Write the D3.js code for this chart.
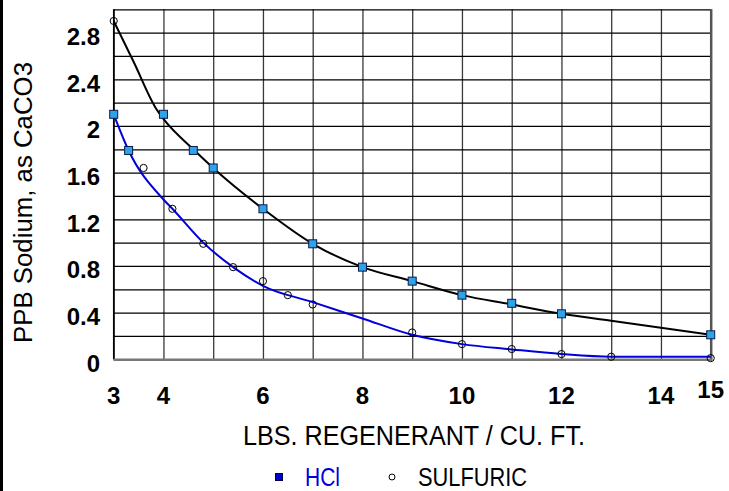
<!DOCTYPE html>
<html>
<head>
<meta charset="utf-8">
<script src="https://cdn.jsdelivr.net/npm/d3@7"></script>
<style>
  html, body { margin: 0; padding: 0; background: #fff; }
  svg { display: block; font-family: "Liberation Sans", Arial, sans-serif; }
</style>
</head>
<body>
<div id="chart"></div>
<script>
// Tick labels
const xTickValues = [3, 4, 6, 8, 10, 12, 14, 15];
const yTickValues = [0, 0.4, 0.8, 1.2, 1.6, 2, 2.4, 2.8];

// Curves (blue = HCl curve, black = sulfuric curve)
const blueLineX = [3, 3.3, 4, 4.18, 4.8, 5.4, 6, 7, 8, 9, 10, 11, 12, 13, 15];
const blueLineY = [2.1, 1.79, 1.37, 1.29, 1.0, 0.79, 0.63, 0.49, 0.35, 0.21, 0.13, 0.085, 0.045, 0.022, 0.022];
const blackLineX = [3, 3.4, 3.85, 4, 4.6, 5, 6, 7, 8, 9, 10, 11, 12, 13, 14, 15];
const blackLineY = [2.9, 2.55, 2.15, 2.06, 1.8, 1.64, 1.29, 0.99, 0.79, 0.67, 0.55, 0.47, 0.39, 0.33, 0.27, 0.21];

// Marker points
const squareX = [3, 3.3, 4, 4.6, 5, 6, 7, 8, 9, 10, 11, 12, 15];
const squareY = [2.1, 1.79, 2.1, 1.79, 1.64, 1.29, 0.99, 0.79, 0.67, 0.55, 0.48, 0.39, 0.21];
const circleX = [3, 3.6, 4.18, 4.8, 5.4, 6, 6.5, 7, 9, 10, 11, 12, 13, 15];
const circleY = [2.9, 1.64, 1.29, 0.99, 0.79, 0.67, 0.55, 0.47, 0.23, 0.13, 0.088, 0.045, 0.022, 0.01];

const seriesNames = ["HCl", "SULFURIC"];

const width = 729, height = 491;

const svg = d3.select("#chart")
    .append("svg")
    .attr("width", width)
    .attr("height", height);

// left frame bar
svg.append("rect")
    .attr("x", 0).attr("y", 0)
    .attr("width", 3).attr("height", height)
    .style("fill", "#000");

const x = d3.scaleLinear()
    .domain([3, 15])
    .range([113.7, 710.7]);

const y = d3.scaleLinear()
    .domain([0, 3])
    .range([359.3, 9.3]);

// vertical gridlines
svg.append("g")
    .attr("transform", "translate(0," + y(0) + ")")
    .call(d3.axisBottom(x).tickValues(d3.range(3, 16)).tickSize(-(y(0) - y(3))).tickFormat(""))
    .call(g => g.select(".domain").remove())
    .call(g => g.selectAll("line").style("stroke", "#3a3a3a").style("stroke-width", 1.3));

// horizontal gridlines
svg.append("g")
    .attr("transform", "translate(" + x(3) + ",0)")
    .call(d3.axisLeft(y).tickValues(d3.range(0, 3.01, 0.2)).tickSize(-(x(15) - x(3))).tickFormat(""))
    .call(g => g.select(".domain").remove())
    .call(g => g.selectAll("line").style("stroke", "#000").style("stroke-width", 1.2));

// frame
svg.append("line")
    .attr("x1", x(3)).attr("x2", x(3))
    .attr("y1", y(3)).attr("y2", y(0))
    .style("stroke", "#000").style("stroke-width", 1.5);
svg.append("line")
    .attr("x1", x(15) + 0.5).attr("x2", x(15) + 0.5)
    .attr("y1", y(3)).attr("y2", y(0) + 1)
    .style("stroke", "#555").style("stroke-width", 2.5);
svg.append("line")
    .attr("x1", x(3)).attr("x2", x(15) + 1.5)
    .attr("y1", y(0) + 0.5).attr("y2", y(0) + 0.5)
    .style("stroke", "#777").style("stroke-width", 2.5);

// y tick labels
svg.append("g")
    .selectAll("text")
    .data(yTickValues)
    .enter()
    .append("text")
    .attr("x", 100)
    .attr("y", (d) => y(d) + 12.5)
    .attr("text-anchor", "end")
    .style("font-size", "24px")
    .style("font-weight", "bold")
    .text((d) => d);

// x tick labels
svg.append("g")
    .selectAll("text")
    .data(xTickValues)
    .enter()
    .append("text")
    .attr("x", (d) => x(d))
    .attr("y", (d) => d == 15 ? 398 : 404)
    .attr("text-anchor", "middle")
    .style("font-size", "24px")
    .style("font-weight", "bold")
    .text((d) => d);

// axis titles
svg.append("text")
    .attr("x", 243)
    .attr("y", 445)
    .attr("textLength", 342)
    .attr("lengthAdjust", "spacingAndGlyphs")
    .style("font-size", "27px")
    .text("LBS. REGENERANT / CU. FT.");

svg.append("text")
    .attr("transform", "rotate(-90)")
    .attr("x", -343)
    .attr("y", 32)
    .attr("textLength", 281)
    .attr("lengthAdjust", "spacingAndGlyphs")
    .style("font-size", "26px")
    .text("PPB Sodium, as CaCO3");

// curves
const line = d3.line()
    .x((d) => x(d[0]))
    .y((d) => y(d[1]))
    .curve(d3.curveMonotoneX);

svg.append("path")
    .datum(d3.zip(blueLineX, blueLineY))
    .attr("d", line)
    .style("fill", "none")
    .style("stroke", "#0000dd")
    .style("stroke-width", 2);

svg.append("path")
    .datum(d3.zip(blackLineX, blackLineY))
    .attr("d", line)
    .style("fill", "none")
    .style("stroke", "#000")
    .style("stroke-width", 2);

// markers
svg.append("g")
    .selectAll("circle")
    .data(d3.zip(circleX, circleY))
    .enter()
    .append("circle")
    .attr("cx", (d) => x(d[0]))
    .attr("cy", (d) => y(d[1]))
    .attr("r", 3.6)
    .style("fill", "none")
    .style("stroke", "#000")
    .style("stroke-width", 1);

svg.append("g")
    .selectAll("rect")
    .data(d3.zip(squareX, squareY))
    .enter()
    .append("rect")
    .attr("x", (d) => x(d[0]) - 4)
    .attr("y", (d) => y(d[1]) - 4)
    .attr("width", 8)
    .attr("height", 8)
    .style("fill", "#2fa3e8")
    .style("stroke", "#0a1a4a")
    .style("stroke-width", 1);

// legend
const legend = svg.append("g");
legend.append("rect")
    .attr("x", 275.5).attr("y", 473.5)
    .attr("width", 7).attr("height", 7)
    .style("fill", "#0000cc")
    .style("stroke", "#000044")
    .style("stroke-width", 1);
legend.append("text")
    .attr("x", 305).attr("y", 486)
    .attr("textLength", 35)
    .attr("lengthAdjust", "spacingAndGlyphs")
    .style("font-size", "25px")
    .style("fill", "#0000dd")
    .text(seriesNames[0]);
legend.append("circle")
    .attr("cx", 392).attr("cy", 477)
    .attr("r", 3)
    .style("fill", "none")
    .style("stroke", "#000")
    .style("stroke-width", 1);
legend.append("text")
    .attr("x", 418).attr("y", 486)
    .attr("textLength", 109)
    .attr("lengthAdjust", "spacingAndGlyphs")
    .style("font-size", "25px")
    .style("fill", "#000")
    .text(seriesNames[1]);
</script>
</body>
</html>
